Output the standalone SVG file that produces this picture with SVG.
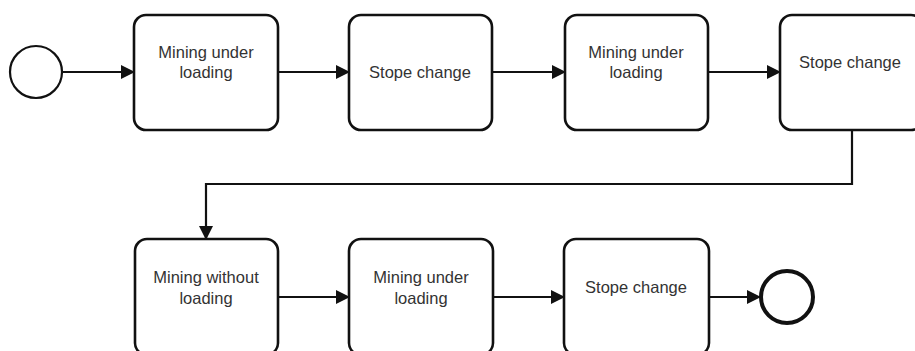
<svg xmlns="http://www.w3.org/2000/svg" width="915" height="351" viewBox="0 0 915 351">
<style>
.box{fill:#fff;stroke:#111;stroke-width:2.6}
.t{font-family:"Liberation Sans",Arial,sans-serif;font-size:16.5px;fill:#333;text-anchor:middle}
.c{fill:none;stroke:#111;stroke-width:2.2}
</style>
<defs>
<marker id="ah" markerWidth="14" markerHeight="14" viewBox="0 0 14 14" refX="13" refY="7" orient="auto" markerUnits="userSpaceOnUse">
<path d="M0,0 L14,7 L0,14 Z" fill="#111"/>
</marker>
</defs>
<rect width="915" height="351" fill="#fff"/>
<g id="connectors">
<line class="c" x1="63" y1="72" x2="134" y2="72" marker-end="url(#ah)"/>
<line class="c" x1="278" y1="72" x2="349" y2="72" marker-end="url(#ah)"/>
<line class="c" x1="492" y1="72" x2="565" y2="72" marker-end="url(#ah)"/>
<line class="c" x1="708" y1="72" x2="780" y2="72" marker-end="url(#ah)"/>
<path class="c" d="M852,130 V184 H206 V239" marker-end="url(#ah)"/>
<line class="c" x1="278" y1="297" x2="349" y2="297" marker-end="url(#ah)"/>
<line class="c" x1="493" y1="297" x2="564" y2="297" marker-end="url(#ah)"/>
<line class="c" x1="709" y1="297" x2="760" y2="297" marker-end="url(#ah)"/>
</g>
<g id="start"><circle cx="36" cy="72" r="26" fill="#fff" stroke="#111" stroke-width="2.2"/></g>
<g id="n1"><rect class="box" x="134" y="15" width="144" height="115" rx="12"/><text class="t" x="206" y="58">Mining under</text><text class="t" x="206" y="78">loading</text></g>
<g id="n2"><rect class="box" x="349" y="15" width="143" height="115" rx="12"/><text class="t" x="420" y="78">Stope change</text></g>
<g id="n3"><rect class="box" x="565" y="15" width="143" height="115" rx="12"/><text class="t" x="636" y="58">Mining under</text><text class="t" x="636" y="78">loading</text></g>
<g id="n4"><rect class="box" x="780" y="15" width="143" height="115" rx="12"/><text class="t" x="850" y="68">Stope change</text></g>
<g id="n5"><rect class="box" x="135" y="239" width="143" height="116" rx="12"/><text class="t" x="206" y="283">Mining without</text><text class="t" x="206" y="304">loading</text></g>
<g id="n6"><rect class="box" x="349" y="239" width="144" height="116" rx="12"/><text class="t" x="421" y="283">Mining under</text><text class="t" x="421" y="304">loading</text></g>
<g id="n7"><rect class="box" x="564" y="239" width="145" height="116" rx="12"/><text class="t" x="636" y="293">Stope change</text></g>
<g id="end"><circle cx="787" cy="297" r="26" fill="#fff" stroke="#111" stroke-width="4"/></g>
</svg>
